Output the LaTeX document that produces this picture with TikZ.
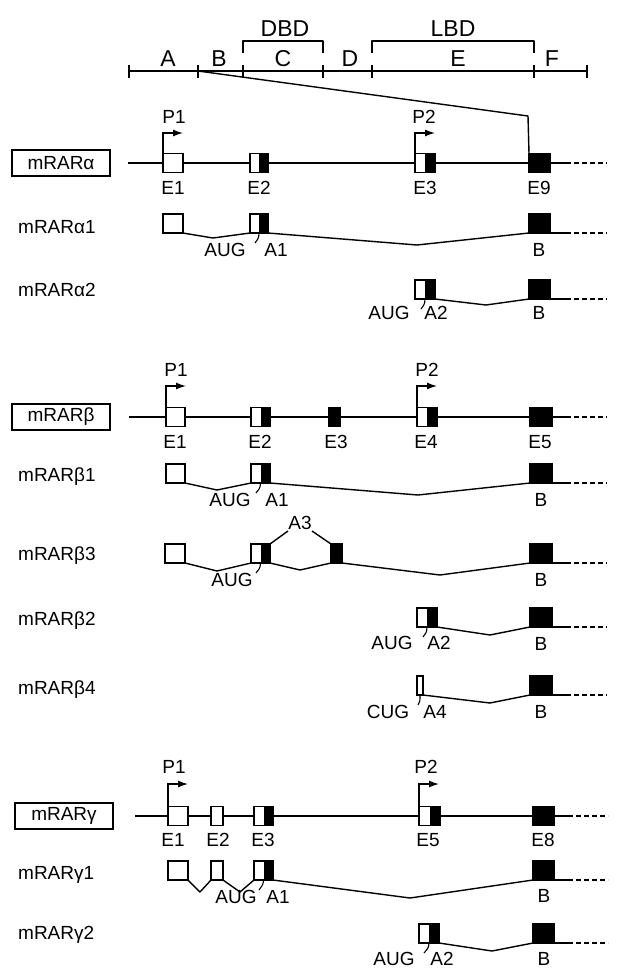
\documentclass[tikz,border=0pt]{standalone}
\usepackage{fontspec}
\setmainfont{Liberation Sans}
\usetikzlibrary{arrows.meta}
\newcommand\lblfont{\fontsize{19}{22}\selectfont}
\newcommand\topfont{\fontsize{23}{26}\selectfont}
\begin{document}
\begin{tikzpicture}[x=1pt,y=-1pt,
  ln/.style={line width=1.4pt, line join=round},
  dsh/.style={line width=1.4pt, dash pattern=on 5pt off 3pt},
  ex/.style={draw, line width=1.3pt, fill=white, inner sep=0pt, outer sep=0pt, minimum height=19pt, minimum width=#1},
  hx/.style={ex=#1, path picture={\fill[black] (path picture bounding box.north) rectangle (path picture bounding box.south east);}},
  bx/.style={ex=#1, fill=black},
  lab/.style={font=\lblfont, inner sep=0pt},
  topl/.style={font=\topfont, inner sep=0pt},
  rowl/.style={font=\lblfont, inner sep=0pt, anchor=west},
  gbox/.style={draw, line width=1.7pt, minimum width=98pt, minimum height=26pt, inner sep=0pt, font=\lblfont},
  prom/.style={line width=1.3pt, -{Latex[length=10pt,width=7pt]}},
  tk/.style={line width=1.1pt},
  tw/.style={anchor=south west},
  gw/.style={anchor=west}
]
\useasboundingbox (0,0) rectangle (617,970);

% ---------------- domain ruler ----------------
\coordinate (t0) at (129,71);
\coordinate (t1) at (198,71);
\coordinate (t2) at (243,71);
\coordinate (t3) at (323,71);
\coordinate (t4) at (372,71);
\coordinate (t5) at (534,71);
\coordinate (t6) at (587,71);
\draw[ln] (t0) -- (t6);
\foreach \t in {t0,t1,t2,t3,t4,t5,t6}
  \draw[ln] ([yshift=6.5pt]\t) -- ([yshift=-6.5pt]\t);
\coordinate (dL) at (243,53);
\coordinate (dR) at (323,53);
\coordinate (lL) at (372,53);
\coordinate (lR) at (534,53);
\draw[ln] (dL) -- ++(0,-12) -| (dR);
\draw[ln] (lL) -- ++(0,-12) -| (lR);
\node[topl] (nDBD) at (285,29) {DBD};
\node[topl] (nLBD) at (453,29) {LBD};
\node[topl] (nA) at (168,59) {A};
\node[topl] (nB) at (219,59) {B};
\node[topl] (nC) at (283,59) {C};
\node[topl] (nD) at (350,59) {D};
\node[topl] (nE) at (458,59) {E};
\node[topl] (nF) at (552,59) {F};

% ---------------- mRARalpha gene ----------------
\node[gbox] (ga) at (61,163) {mRARα};
\node[ex=20, gw] (aE1) at (163,163) {};
\node[hx=18, gw] (aE2) at (250,163) {};
\node[hx=20, gw] (aE3) at (415,163) {};
\node[bx=21, gw] (aE9) at (529,163) {};
\coordinate (aS) at (128,163);
\coordinate (aD) at (566,163);
\coordinate (aZ) at (607,163);
\draw[ln] (aS) -- (aE1.west) (aE1.east) -- (aE2.west) (aE2.east) -- (aE3.west)
  (aE3.east) -- (aE9.west) (aE9.east) -- (aD);
\draw[dsh] (aD) -- (aZ);
\coordinate (dg) at (528,116);
\draw[ln] (t1) -- (dg) -- (aE9.north west);
\coordinate (aP1) at (183,133);
\coordinate (aP2) at (435,133);
\draw[prom] (aE1.north west) |- (aP1);
\draw[prom] (aE3.north west) |- (aP2);
\node[lab] (aP1l) at (174,117) {P1};
\node[lab] (aP2l) at (424,117) {P2};
\node[lab] (aE1l) at (173,188) {E1};
\node[lab] (aE2l) at (259,188) {E2};
\node[lab] (aE3l) at (425,188) {E3};
\node[lab] (aE9l) at (539,188) {E9};

% mRARalpha1
\node[rowl] (ra1) at (18,227) {mRARα1};
\node[ex=20, tw] (a1E1) at (163,233) {};
\node[hx=18, tw] (a1E2) at (250,233) {};
\node[bx=21, tw] (a1B) at (529,233) {};
\coordinate (a1v1) at (213,238);
\coordinate (a1v2) at (417,245);
\coordinate (a1D) at (566,233);
\coordinate (a1Z) at (607,233);
\draw[ln] (a1E1.south east) -- (a1v1) -- (a1E2.south west);
\draw[ln] (a1E2.south east) -- (a1v2) -- (a1B.south west);
\draw[ln] (a1B.south east) -- (a1D);
\draw[dsh] (a1D) -- (a1Z);
\coordinate (a1k) at (255,243);
\draw[tk] (a1E2.south) .. controls +(0,6) and +(2,-3) .. (a1k);
\node[lab] (a1aug) at (225,250) {AUG};
\node[lab] (a1a1) at (276,250) {A1};
\node[lab] (a1b) at (539,250) {B};

% mRARalpha2
\node[rowl] (ra2) at (18,290) {mRARα2};
\node[hx=20, tw] (a2E3) at (415,299) {};
\node[bx=21, tw] (a2B) at (529,299) {};
\coordinate (a2v) at (486,305);
\coordinate (a2D) at (566,299);
\coordinate (a2Z) at (607,299);
\draw[ln] (a2E3.south east) -- (a2v) -- (a2B.south west);
\draw[ln] (a2B.south east) -- (a2D);
\draw[dsh] (a2D) -- (a2Z);
\coordinate (a2k) at (421,309);
\draw[tk] (a2E3.south) .. controls +(0,6) and +(2,-3) .. (a2k);
\node[lab] (a2aug) at (389,313) {AUG};
\node[lab] (a2a2) at (436,313) {A2};
\node[lab] (a2b) at (539,313) {B};

% ---------------- mRARbeta gene ----------------
\node[gbox] (gb) at (61,417) {mRARβ};
\node[ex=19, gw] (bE1) at (166,417) {};
\node[hx=19, gw] (bE2) at (251,417) {};
\node[bx=11, gw] (bE3) at (329,417) {};
\node[hx=20, gw] (bE4) at (417,417) {};
\node[bx=22, gw] (bE5) at (530,417) {};
\coordinate (bS) at (129,417);
\coordinate (bD) at (566,417);
\coordinate (bZ) at (607,417);
\draw[ln] (bS) -- (bE1.west) (bE1.east) -- (bE2.west) (bE2.east) -- (bE3.west)
  (bE3.east) -- (bE4.west) (bE4.east) -- (bE5.west) (bE5.east) -- (bD);
\draw[dsh] (bD) -- (bZ);
\coordinate (bP1) at (186,386);
\coordinate (bP2) at (437,386);
\draw[prom] (bE1.north west) |- (bP1);
\draw[prom] (bE4.north west) |- (bP2);
\node[lab] (bP1l) at (176,370) {P1};
\node[lab] (bP2l) at (427,370) {P2};
\node[lab] (bE1l) at (175,442) {E1};
\node[lab] (bE2l) at (260,442) {E2};
\node[lab] (bE3l) at (336,442) {E3};
\node[lab] (bE4l) at (426,442) {E4};
\node[lab] (bE5l) at (540,442) {E5};

% mRARbeta1
\node[rowl] (rb1) at (18,477) {mRARβ1};
\node[ex=19, tw] (b1E1) at (166,483) {};
\node[hx=19, tw] (b1E2) at (251,483) {};
\node[bx=22, tw] (b1B) at (530,483) {};
\coordinate (b1v1) at (217,490);
\coordinate (b1v2) at (418,495);
\coordinate (b1D) at (566,483);
\coordinate (b1Z) at (607,483);
\draw[ln] (b1E1.south east) -- (b1v1) -- (b1E2.south west);
\draw[ln] (b1E2.south east) -- (b1v2) -- (b1B.south west);
\draw[ln] (b1B.south east) -- (b1D);
\draw[dsh] (b1D) -- (b1Z);
\coordinate (b1k) at (256,493);
\draw[tk] (b1E2.south) .. controls +(0,6) and +(2,-3) .. (b1k);
\node[lab] (b1aug) at (230,500) {AUG};
\node[lab] (b1a1) at (277,500) {A1};
\node[lab] (b1b) at (541,500) {B};

% mRARbeta3
\node[rowl] (rb3) at (18,556) {mRARβ3};
\node[ex=20, tw] (b3E1) at (165,563) {};
\node[hx=19, tw] (b3E2) at (251,563) {};
\node[bx=11, tw] (b3E3) at (331,563) {};
\node[bx=22, tw] (b3B) at (530,563) {};
\coordinate (b3v1) at (217,571);
\coordinate (b3v2) at (300,570);
\coordinate (b3v3) at (440,575);
\coordinate (b3p1) at (288,531);
\coordinate (b3p2) at (312,531);
\coordinate (b3D) at (566,563);
\coordinate (b3Z) at (607,563);
\draw[ln] (b3E1.south east) -- (b3v1) -- (b3E2.south west);
\draw[ln] (b3E2.south east) -- (b3v2) -- (b3E3.south west);
\draw[ln] (b3E3.south east) -- (b3v3) -- (b3B.south west);
\draw[ln] (b3E2.north east) -- (b3p1);
\draw[ln] (b3p2) -- (b3E3.north west);
\draw[ln] (b3B.south east) -- (b3D);
\draw[dsh] (b3D) -- (b3Z);
\coordinate (b3k) at (256,573);
\draw[tk] (b3E2.south) .. controls +(0,6) and +(2,-3) .. (b3k);
\node[lab] (b3a3) at (300,523) {A3};
\node[lab] (b3aug) at (232,580) {AUG};
\node[lab] (b3b) at (541,580) {B};

% mRARbeta2
\node[rowl] (rb2) at (18,621) {mRARβ2};
\node[hx=20, tw] (b2E4) at (417,627) {};
\node[bx=22, tw] (b2B) at (530,627) {};
\coordinate (b2v) at (490,635);
\coordinate (b2D) at (566,627);
\coordinate (b2Z) at (607,627);
\draw[ln] (b2E4.south east) -- (b2v) -- (b2B.south west);
\draw[ln] (b2B.south east) -- (b2D);
\draw[dsh] (b2D) -- (b2Z);
\coordinate (b2k) at (423,637);
\draw[tk] (b2E4.south) .. controls +(0,6) and +(2,-3) .. (b2k);
\node[lab] (b2aug) at (392,643) {AUG};
\node[lab] (b2a2) at (439,643) {A2};
\node[lab] (b2b) at (541,644) {B};

% mRARbeta4
\node[rowl] (rb4) at (18,690) {mRARβ4};
\node[ex=6, tw] (b4E4) at (417,695) {};
\node[bx=22, tw] (b4B) at (530,695) {};
\coordinate (b4v) at (490,703);
\coordinate (b4D) at (566,695);
\coordinate (b4Z) at (607,695);
\draw[ln] (b4E4.south east) -- (b4v) -- (b4B.south west);
\draw[ln] (b4B.south east) -- (b4D);
\draw[dsh] (b4D) -- (b4Z);
\coordinate (b4k) at (418,705);
\draw[tk] (b4E4.south) .. controls +(0,6) and +(2,-3) .. (b4k);
\node[lab] (b4cug) at (388,712) {CUG};
\node[lab] (b4a4) at (435,712) {A4};
\node[lab] (b4b) at (541,712) {B};

% ---------------- mRARgamma gene ----------------
\node[gbox] (gg) at (64,816) {mRARγ};
\node[ex=20, gw] (gE1) at (168,816) {};
\node[ex=12, gw] (gE2) at (211,816) {};
\node[hx=19, gw] (gE3) at (254,816) {};
\node[hx=21, gw] (gE5) at (419,816) {};
\node[bx=21, gw] (gE8) at (533,816) {};
\coordinate (gS) at (135,816);
\coordinate (gD) at (568,816);
\coordinate (gZ) at (608,816);
\draw[ln] (gS) -- (gE1.west) (gE1.east) -- (gE2.west) (gE2.east) -- (gE3.west)
  (gE3.east) -- (gE5.west) (gE5.east) -- (gE8.west) (gE8.east) -- (gD);
\draw[dsh] (gD) -- (gZ);
\coordinate (gP1) at (188,784);
\coordinate (gP2) at (439,784);
\draw[prom] (gE1.north west) |- (gP1);
\draw[prom] (gE5.north west) |- (gP2);
\node[lab] (gP1l) at (174,767) {P1};
\node[lab] (gP2l) at (426,767) {P2};
\node[lab] (gE1l) at (173,840) {E1};
\node[lab] (gE2l) at (218,840) {E2};
\node[lab] (gE3l) at (263,840) {E3};
\node[lab] (gE5l) at (428,840) {E5};
\node[lab] (gE8l) at (543,840) {E8};

% mRARgamma1
\node[rowl] (rg1) at (18,875) {mRARγ1};
\node[ex=20, tw] (g1E1) at (168,880) {};
\node[ex=12, tw] (g1E2) at (211,880) {};
\node[hx=19, tw] (g1E3) at (254,880) {};
\node[bx=21, tw] (g1B) at (533,880) {};
\coordinate (g1v1) at (200,892);
\coordinate (g1v2) at (240,892);
\coordinate (g1v3) at (410,898);
\coordinate (g1D) at (568,880);
\coordinate (g1Z) at (608,880);
\draw[ln] (g1E1.south east) -- (g1v1) -- (g1E2.south west);
\draw[ln] (g1E2.south east) -- (g1v2) -- (g1E3.south west);
\draw[ln] (g1E3.south east) -- (g1v3) -- (g1B.south west);
\draw[ln] (g1B.south east) -- (g1D);
\draw[dsh] (g1D) -- (g1Z);
\coordinate (g1k) at (259,890);
\draw[tk] (g1E3.south) .. controls +(0,5) and +(2,-3) .. (g1k);
\node[lab] (g1aug) at (236,897) {AUG};
\node[lab] (g1a1) at (278,897) {A1};
\node[lab] (g1b) at (544,896) {B};

% mRARgamma2
\node[rowl] (rg2) at (18,935) {mRARγ2};
\node[hx=20, tw] (g2E5) at (419,943) {};
\node[bx=21, tw] (g2B) at (533,943) {};
\coordinate (g2v) at (492,951);
\coordinate (g2D) at (568,943);
\coordinate (g2Z) at (608,943);
\draw[ln] (g2E5.south east) -- (g2v) -- (g2B.south west);
\draw[ln] (g2B.south east) -- (g2D);
\draw[dsh] (g2D) -- (g2Z);
\coordinate (g2k) at (424,953);
\draw[tk] (g2E5.south) .. controls +(0,6) and +(2,-3) .. (g2k);
\node[lab] (g2aug) at (394,959) {AUG};
\node[lab] (g2a2) at (442,959) {A2};
\node[lab] (g2b) at (544,959) {B};
\end{tikzpicture}
\end{document}
